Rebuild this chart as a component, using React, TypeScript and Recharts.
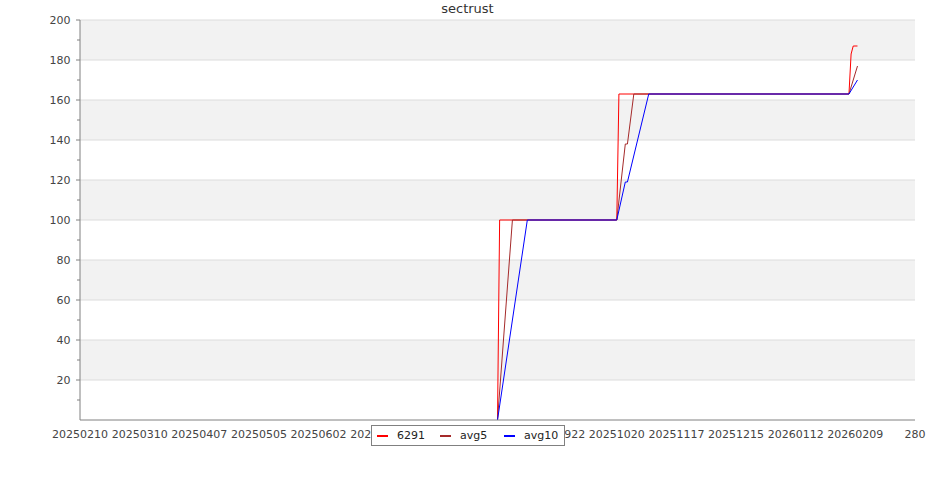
import {
  LineChart,
  Line,
  XAxis,
  YAxis,
  ReferenceArea,
  ReferenceLine,
} from "recharts";

// day 0 of the time axis
const startDate = "20250210";

// x axis labels, one every 28 days (the last one is cut off in the original)
const xTickLabels = [
  "20250210", "20250310", "20250407", "20250505", "20250602",
  "20250630", "20250728", "20250825", "20250922", "20251020",
  "20251117", "20251215", "20260112", "20260209", "280",
];
const tickStepDays = 28;

const yTicks = [10, 20, 30, 40, 50, 60, 70, 80, 90, 100, 110, 120, 130, 140, 150, 160, 170, 180, 190, 200];
const gridValues = [20, 40, 60, 80, 100, 120, 140, 160, 180, 200];
const grayBands = [[20, 40], [60, 80], [100, 120], [140, 160], [180, 200]];

// series 6291
const dates6291 = ["20250825", "20250826", "20251020", "20251021", "20260206", "20260207", "20260208", "20260210"];
const values6291 = [0, 100, 100, 163, 163, 183, 187, 187];

// 5 point average
const datesAvg5 = ["20250825", "20250901", "20251020", "20251024", "20251025", "20251028", "20260206", "20260210"];
const valuesAvg5 = [0, 100, 100, 138, 138, 163, 163, 177];

// 10 point average
const datesAvg10 = ["20250825", "20250908", "20251020", "20251024", "20251025", "20251104", "20260206", "20260210"];
const valuesAvg10 = [0, 100, 100, 119, 119, 163, 163, 170];

const toDays = (s: string) => {
  const t = (d: string) => Date.UTC(+d.slice(0, 4), +d.slice(4, 6) - 1, +d.slice(6, 8));
  return Math.round((t(s) - t(startDate)) / 86400000);
};

// merge the three series on one day axis
const rows = (() => {
  const map = new Map<number, any>();
  const add = (dates: string[], vals: number[], key: string) =>
    dates.forEach((d, i) => {
      const day = toDays(d);
      const row = map.get(day) || { day };
      row[key] = vals[i];
      map.set(day, row);
    });
  add(dates6291, values6291, "s6291");
  add(datesAvg5, valuesAvg5, "avg5");
  add(datesAvg10, valuesAvg10, "avg10");
  return [...map.values()].sort((a, b) => a.day - b.day);
})();

const xTicks = xTickLabels.map((_, i) => i * tickStepDays);

const font = "'DejaVu Sans', sans-serif";
const axisColor = "#808080";

const legendItems = [
  { name: "6291", color: "#ff0000" },
  { name: "avg5", color: "#a52a2a" },
  { name: "avg10", color: "#0000ff" },
];

function XTick({ x, y, index }: any) {
  return (
    <text x={x} y={y + 18} textAnchor="middle" fontSize={11} fontFamily={font} fill="#444">
      {xTickLabels[index]}
    </text>
  );
}

function YTick({ x, y, payload }: any) {
  const major = payload.value % 20 === 0;
  return (
    <g>
      <line x1={x - (major ? 4 : 3)} x2={x} y1={y} y2={y} stroke={axisColor} />
      {major && (
        <text x={x - 9.5} y={y + 4} textAnchor="end" fontSize={11} fontFamily={font} fill="#444">
          {payload.value}
        </text>
      )}
    </g>
  );
}

export default function App() {
  return (
    <div style={{ position: "absolute", left: 0, top: 0, width: 935, height: 500, background: "#fff", fontFamily: font }}>
      <div style={{ position: "absolute", left: 0, top: 1, width: 935, textAlign: "center", fontSize: 13, color: "#333" }}>
        sectrust
      </div>
      <LineChart width={935} height={500} data={rows} margin={{ top: 20, right: 20, bottom: 50, left: 0 }}>
        {grayBands.map(([a, b]) => (
          <ReferenceArea key={a} y1={a} y2={b} fill="#f2f2f2" fillOpacity={1} stroke="none" />
        ))}
        {gridValues.map((v) => (
          <ReferenceLine key={v} y={v} stroke="#dcdcdc" />
        ))}
        <XAxis
          dataKey="day"
          type="number"
          domain={[0, tickStepDays * (xTickLabels.length - 1)]}
          ticks={xTicks}
          interval={0}
          height={30}
          tickSize={0}
          tickMargin={0}
          tickLine={false}
          axisLine={{ stroke: axisColor }}
          tick={<XTick />}
        />
        <YAxis
          type="number"
          domain={[0, 200]}
          ticks={yTicks}
          interval={0}
          width={80}
          tickSize={0}
          tickMargin={0}
          tickLine={false}
          axisLine={{ stroke: axisColor }}
          tick={<YTick />}
        />
        <Line dataKey="s6291" stroke="#ff0000" strokeWidth={1} dot={false} connectNulls isAnimationActive={false} />
        <Line dataKey="avg5" stroke="#a52a2a" strokeWidth={1} dot={false} connectNulls isAnimationActive={false} />
        <Line dataKey="avg10" stroke="#0000ff" strokeWidth={1} dot={false} connectNulls isAnimationActive={false} />
      </LineChart>
      <div
        style={{
          position: "absolute",
          left: 371,
          top: 425,
          width: 192,
          height: 19,
          border: "1px solid #808080",
          background: "#fff",
          fontSize: 11,
          color: "#222",
        }}
      >
        {legendItems.map((it, i) => (
          <div key={it.name} style={{ position: "absolute", left: [5, 68, 132][i], top: 3, display: "flex", alignItems: "center", whiteSpace: "nowrap" }}>
            <span style={{ display: "inline-block", width: 11, height: 2, background: it.color, marginRight: 9, marginTop: 1 }} />
            <span>{it.name}</span>
          </div>
        ))}
      </div>
    </div>
  );
}
